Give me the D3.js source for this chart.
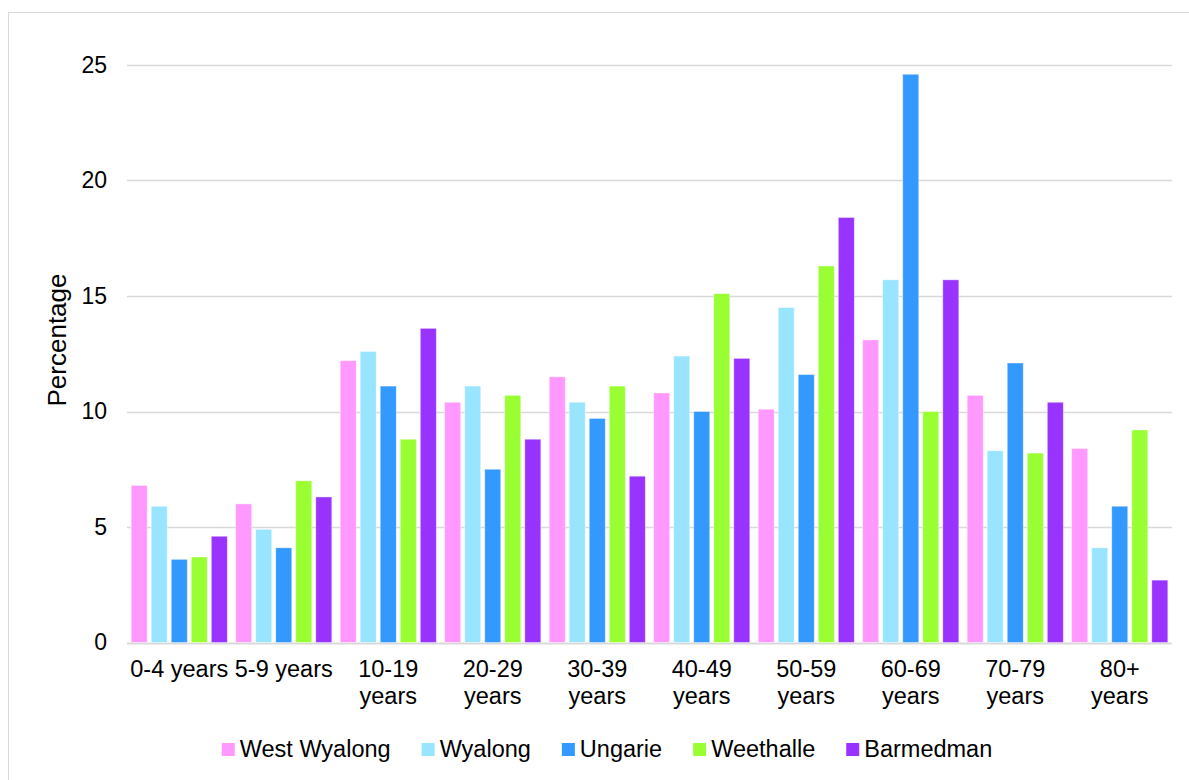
<!DOCTYPE html>
<html>
<head>
<meta charset="utf-8">
<script src="https://cdn.jsdelivr.net/npm/d3@7"></script>
<style>
  body { margin: 0; background: #fff; }
  text { font-family: "Liberation Sans", Arial, sans-serif; fill: #000; }
</style>
</head>
<body>
<svg id="chart" width="1189" height="780"></svg>
<script>
// age groups, each label split into lines as drawn under the axis
let ageGroups = ['0-4 years', '5-9 years', '10-19 years', '20-29 years', '30-39 years',
                 '40-49 years', '50-59 years', '60-69 years', '70-79 years', '80+ years'];
let ageLines = [['0-4 years'], ['5-9 years'], ['10-19', 'years'], ['20-29', 'years'], ['30-39', 'years'],
                ['40-49', 'years'], ['50-59', 'years'], ['60-69', 'years'], ['70-79', 'years'], ['80+', 'years']];

let towns = ['West Wyalong', 'Wyalong', 'Ungarie', 'Weethalle', 'Barmedman'];
let townColors = ['#ff99ff', '#99e5ff', '#3399ff', '#99ff33', '#9933ff'];

// percentage per age group, one array per town
let westWyalong = [6.8, 6.0, 12.2, 10.4, 11.5, 10.8, 10.1, 13.1, 10.7, 8.4];
let wyalong     = [5.9, 4.9, 12.6, 11.1, 10.4, 12.4, 14.5, 15.7, 8.3, 4.1];
let ungarie     = [3.6, 4.1, 11.1, 7.5, 9.7, 10.0, 11.6, 24.6, 12.1, 5.9];
let weethalle   = [3.7, 7.0, 8.8, 10.7, 11.1, 15.1, 16.3, 10.0, 8.2, 9.2];
let barmedman   = [4.6, 6.3, 13.6, 8.8, 7.2, 12.3, 18.4, 15.7, 10.4, 2.7];

let yTicks = [0, 5, 10, 15, 20, 25];

let seriesVals = [westWyalong, wyalong, ungarie, weethalle, barmedman];

let rows = [];
ageGroups.forEach((g, i) => {
  towns.forEach((t, j) => {
    rows.push({group: g, town: t, value: seriesVals[j][i], color: townColors[j]});
  });
});

let svg = d3.select('#chart');

// outer frame
svg.append('rect')
  .attr('x', 8.5).attr('y', 12.5)
  .attr('width', 1200).attr('height', 800)
  .attr('fill', 'none')
  .attr('stroke', '#d9d9d9');

let plotLeft = 127, plotRight = 1172, plotTop = 65, plotBottom = 642.5;

let x0 = d3.scaleBand()
  .domain(ageGroups)
  .range([plotLeft, plotRight])
  .paddingInner(0.08)
  .paddingOuter(0.04);

let x1 = d3.scaleBand()
  .domain(towns)
  .range([0, x0.bandwidth()])
  .paddingInner(0.2)
  .paddingOuter(0);

let y = d3.scaleLinear()
  .domain([0, 25])
  .range([plotBottom, plotTop]);

// gridlines
svg.append('g')
  .attr('class', 'grid')
  .selectAll('line')
  .data(yTicks)
  .enter()
  .append('line')
  .attr('x1', plotLeft)
  .attr('x2', plotRight)
  .attr('y1', d => Math.round(y(d)) + 0.5)
  .attr('y2', d => Math.round(y(d)) + 0.5)
  .attr('stroke', '#d9d9d9')
  .attr('stroke-width', d => d === 0 ? 2 : 1.3);

// y tick labels
let yAxis = svg.append('g')
  .attr('transform', `translate(${plotLeft - 20}, 0)`)
  .call(d3.axisLeft(y).tickValues(yTicks).tickSize(0).tickPadding(0));
yAxis.select('.domain').remove();
yAxis.selectAll('text')
  .style('font-size', '23px')
  .style('font-family', '"Liberation Sans", Arial, sans-serif')
  .attr('fill', '#000');

// bars
svg.append('g')
  .attr('class', 'bars')
  .selectAll('rect')
  .data(rows)
  .enter()
  .append('rect')
  .attr('x', d => x0(d.group) + x1(d.town))
  .attr('y', d => y(d.value))
  .attr('width', x1.bandwidth())
  .attr('height', d => y(0) - y(d.value))
  .attr('fill', d => d.color)
  .attr('stroke', 'rgba(255,255,255,0.5)')
  .attr('stroke-width', 0.8);

// x labels
let xLab = svg.append('g')
  .attr('class', 'xlabels')
  .selectAll('text')
  .data(ageGroups)
  .enter()
  .append('text')
  .attr('x', d => x0(d) + x0.bandwidth() / 2)
  .attr('y', 677)
  .attr('text-anchor', 'middle')
  .style('font-size', '23.5px');

xLab.each(function(d, i) {
  let t = d3.select(this);
  ageLines[i].forEach((line, k) => {
    t.append('tspan')
      .attr('x', x0(d) + x0.bandwidth() / 2)
      .attr('dy', k === 0 ? 0 : 26.5)
      .text(line);
  });
});

// y title
svg.append('text')
  .attr('transform', 'translate(66, 340) rotate(-90)')
  .attr('text-anchor', 'middle')
  .style('font-size', '26px')
  .text('Percentage');

// legend
let legend = svg.append('g').attr('class', 'legend');
let lx = 0;
towns.forEach((t, j) => {
  let g = legend.append('g');
  g.append('rect')
    .attr('x', 0).attr('y', 743)
    .attr('width', 13).attr('height', 13)
    .attr('fill', townColors[j]);
  let txt = g.append('text')
    .attr('x', 18).attr('y', 756.5)
    .style('font-size', '23.5px')
    .text(t);
  let w = txt.node().getComputedTextLength();
  g.attr('transform', `translate(${lx}, 0)`);
  lx += 18 + w + 31;
});
let totalW = lx - 31;
legend.attr('transform', `translate(${607 - totalW / 2}, 0)`);
</script>
</body>
</html>
